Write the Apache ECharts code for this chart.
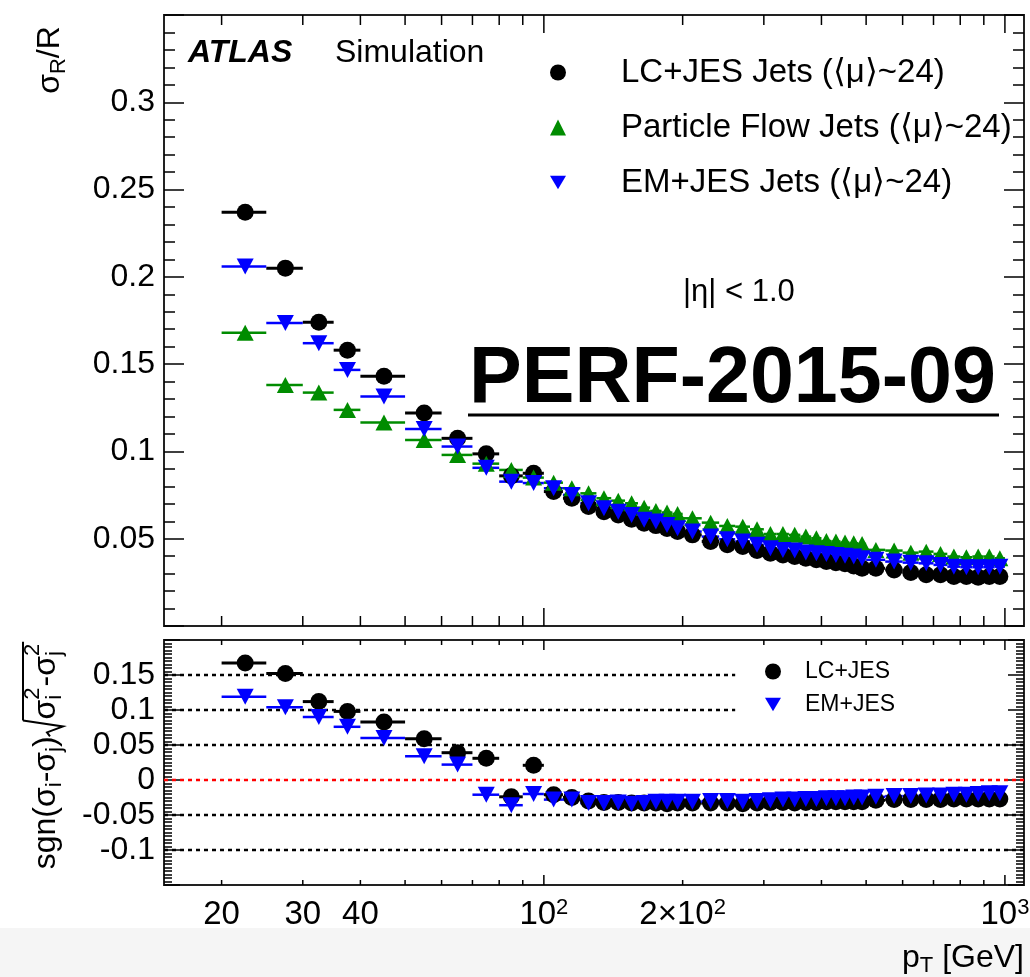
<!DOCTYPE html>
<html><head><meta charset="utf-8">
<script src="https://cdn.jsdelivr.net/npm/echarts@6/dist/echarts.min.js"></script>
<style>html,body{margin:0;padding:0;background:#fff}#c{width:1030px;height:977px}</style>
</head><body><div id="c"></div>
<script>
// ---- data ----
const BIN_EDGES = [20,25,30,35,40,50,60,70,80,90,100,110,120,130,140,150,160,170,180,190,200,
  220,240,260,280,300,320,340,360,380,400,420,440,460,480,500,550,600,650,700,750,800,850,900,950,1000];
const LC_RES = [0.237,0.205,0.174,0.158,0.143,0.122,0.1075,0.0986,0.086,0.0875,
  0.077,0.0732,0.0684,0.0655,0.0636,0.0612,0.0589,0.0575,0.0558,0.0541,
  0.0522,0.0484,0.0465,0.0455,0.0432,0.0417,0.0407,0.0398,0.0388,0.0379,0.0369,0.0363,0.0356,0.0344,0.0331,
  0.0331,0.0321,0.0306,0.0293,0.0293,0.0283,0.0283,0.0279,0.0283,0.0283];
const PF_RES = [0.168,0.138,0.1337,0.1238,0.1165,0.1066,0.098,0.093,0.0894,0.085,
  0.0821,0.0789,0.076,0.0732,0.0718,0.0703,0.0678,0.0659,0.065,0.0642,
  0.0617,0.0592,0.0573,0.0569,0.0554,0.0527,0.0527,0.0522,0.0512,0.0503,0.0487,0.0484,0.0478,0.0474,0.047,
  0.0436,0.0432,0.042,0.0426,0.0413,0.0398,0.0394,0.0398,0.0398,0.0388];
const EM_RES = [0.206,0.1736,0.162,0.1467,0.1314,0.1129,0.1028,0.0906,0.0827,0.0819,
  0.0789,0.0751,0.0703,0.0674,0.0655,0.0636,0.0608,0.0598,0.0578,0.056,
  0.0541,0.0512,0.0497,0.0484,0.0465,0.0445,0.0436,0.0432,0.0421,0.0417,0.0413,0.0407,0.0402,0.0398,0.0388,
  0.0379,0.0369,0.0363,0.0359,0.035,0.034,0.0337,0.0337,0.0337,0.034];
const LC_DIFF = [0.167,0.152,0.112,0.098,0.083,0.059,0.039,0.031,-0.024,0.021,
  -0.021,-0.025,-0.03,-0.032,-0.032,-0.033,-0.033,-0.033,-0.034,-0.033,
  -0.033,-0.033,-0.033,-0.034,-0.033,-0.032,-0.032,-0.033,-0.032,-0.032,-0.031,-0.031,-0.031,-0.031,-0.031,
  -0.029,-0.028,-0.028,-0.028,-0.028,-0.027,-0.027,-0.027,-0.027,-0.027];
const EM_DIFF = [0.119,0.104,0.09,0.076,0.06,0.034,0.022,-0.021,-0.036,-0.02,
  -0.028,-0.028,-0.033,-0.033,-0.032,-0.034,-0.033,-0.031,-0.031,-0.031,
  -0.031,-0.03,-0.03,-0.031,-0.03,-0.029,-0.028,-0.028,-0.027,-0.027,-0.026,-0.026,-0.026,-0.025,-0.025,
  -0.024,-0.023,-0.023,-0.022,-0.022,-0.021,-0.021,-0.02,-0.019,-0.019];
const X_TICKS = [20,30,40,50,60,70,80,90,100,200,300,400,500,600,700,800,900,1000];
const X_MAJOR = [100,1000];
const X_LABEL_VALUES = [20,30,40,100,200,1000];
const X_LABEL_TEXT = ['20','30','40','10{s|2}','2\u00d710{s|2}','10{s|3}'];
const REF_LEVELS = [0.15,0.1,0.05,-0.05,-0.1];
const REF_XMAX = [260,260,1100,1100,1100];
const NAMES = ['LC+JES Jets (\u27e8\u03bc\u27e9~24)','Particle Flow Jets (\u27e8\u03bc\u27e9~24)','EM+JES Jets (\u27e8\u03bc\u27e9~24)'];
const NAMES2 = ['LC+JES','EM+JES'];

// ---- helpers ----
const FONT = '"Liberation Sans", Arial, sans-serif';
const XMIN = 15, XMAX = 1100;
const GREEN = '#008c00', BLUE = '#0000ff';
const DOWN = 'path://M0,0L20,0L10,17Z';
const MS = 17;
const centers = BIN_EDGES.slice(0,-1).map((lo,i)=>(lo+BIN_EDGES[i+1])/2);
const rows = vals => vals.map((v,i)=>[centers[i], v, BIN_EDGES[i], BIN_EDGES[i+1]]);
const fmt = v => String(parseFloat(v.toFixed(3)));

function errBars(vals, color, w, xi, yi){
  return {type:'custom', xAxisIndex:xi, yAxisIndex:yi, silent:true, z:2, data:rows(vals), encode:{x:0,y:1},
    renderItem(p, api){
      const a = api.coord([api.value(2), api.value(1)]), b = api.coord([api.value(3), api.value(1)]);
      return {type:'line', shape:{x1:a[0],y1:a[1],x2:b[0],y2:b[1]}, style:{stroke:color, lineWidth:w}};
    }};
}
function scatter(name, vals, symbol, size, color, xi, yi, z){
  return {type:'scatter', name, xAxisIndex:xi, yAxisIndex:yi, data:rows(vals).map(r=>[r[0],r[1]]),
    symbol, symbolSize:size, itemStyle:{color, opacity:1}, z, silent:true};
}
function xTicks(xi, yi, ymin, ymax, maj, mnr){
  return {type:'custom', xAxisIndex:xi, yAxisIndex:yi, silent:true, z:6, data:X_TICKS.map(v=>[v, ymin]), encode:{x:0,y:1},
    renderItem(p, api){
      const v = api.value(0), L = X_MAJOR.includes(v) ? maj : mnr;
      const b = api.coord([v, ymin]), t = api.coord([v, ymax]);
      return {type:'group', children:[
        {type:'line', shape:{x1:b[0],y1:b[1],x2:b[0],y2:b[1]-L}, style:{stroke:'#000', lineWidth:1.5}},
        {type:'line', shape:{x1:t[0],y1:t[1],x2:t[0],y2:t[1]+L}, style:{stroke:'#000', lineWidth:1.5}}]};
    }};
}
function yAxis(grid, min, max, pos, maj, mnr, split, showLabel){
  return {gridIndex:grid, type:'value', min, max, interval:0.05, position:pos,
    axisLine:{show:false}, splitLine:{show:false},
    axisTick:{inside:true, length:maj, lineStyle:{color:'#000', width:1.5}},
    minorTick:{show:true, splitNumber:split, length:mnr, lineStyle:{color:'#000', width:1.5}},
    axisLabel:{show:showLabel, fontSize:32, fontFamily:FONT, color:'#000', margin:9,
      formatter: v => (Math.abs(v-min)<1e-9 || Math.abs(v-max)<1e-9) ? '' : fmt(v)}};
}
const ctx = document.createElement('canvas').getContext('2d');
function tw(t, s, w){ ctx.font = (w?w+' ':'') + s + 'px ' + FONT; return ctx.measureText(t).width; }
function txt(q, x){
  return {type:'text', x, y:q.dy||0, style:{text:q.t, font:(q.w?q.w+' ':'')+q.s+'px '+FONT, fill:'#000',
    textAlign:'left', align:'left', textVerticalAlign:'middle', verticalAlign:'middle'}};
}
function mathGroup(pieces, cx, cy, rot){
  let x = 0, radStart = null; const ch = [];
  for (const p of pieces){
    if (p.stack){ let mw = 0; for (const q of p.stack){ ch.push(txt(q,x)); mw = Math.max(mw, tw(q.t,q.s)); } x += mw + 1; }
    else if (p.rad){
      radStart = x;
      ch.push({type:'polyline', shape:{points:[[x,4],[x+4,1],[x+10,17],[x+16,-23]]}, style:{stroke:'#000', lineWidth:2, fill:null}});
      x += 17;
    } else { ch.push(txt(p,x)); x += tw(p.t,p.s,p.w); }
  }
  if (radStart !== null) ch.push({type:'line', shape:{x1:radStart+16,y1:-23,x2:x+1,y2:-23}, style:{stroke:'#000', lineWidth:2}});
  return {type:'group', x:cx, y:cy, rotation:rot, children:[{type:'group', x:-x/2, y:0, children:ch}]};
}
function txtAt(t, x, y, font){
  return {type:'text', x, y, silent:true, style:{text:t, font, fill:'#000', textAlign:'left', align:'left',
    textVerticalAlign:'middle', verticalAlign:'middle'}};
}

const series = [];
// bottom-panel reference lines
REF_LEVELS.forEach((y,i)=>series.push({type:'line', xAxisIndex:1, yAxisIndex:2, silent:true, symbol:'none', z:1,
  data:[[XMIN,y],[REF_XMAX[i],y]], lineStyle:{color:'#000', width:2.5, type:[4,4]}}));
series.push({type:'line', xAxisIndex:1, yAxisIndex:2, silent:true, symbol:'none', z:1,
  data:[[XMIN,0],[XMAX,0]], lineStyle:{color:'#ff0000', width:2.5, type:[4,4]}});
// top panel
series.push(errBars(LC_RES,'#000',3,0,0), errBars(PF_RES,GREEN,2.5,0,0), errBars(EM_RES,BLUE,2.5,0,0));
series.push(scatter(NAMES[0], LC_RES, 'circle', MS, '#000', 0, 0, 3));
series.push(scatter(NAMES[1], PF_RES, 'triangle', [MS,MS-1], GREEN, 0, 0, 4));
series.push(scatter(NAMES[2], EM_RES, DOWN, [MS,MS-1], BLUE, 0, 0, 5));
// bottom panel
series.push(errBars(LC_DIFF,'#000',3,1,2), errBars(EM_DIFF,BLUE,2.5,1,2));
series.push(scatter(NAMES2[0], LC_DIFF, 'circle', MS, '#000', 1, 2, 3));
series.push(scatter(NAMES2[1], EM_DIFF, DOWN, [MS,MS-1], BLUE, 1, 2, 5));
// ticks on x frames
series.push(xTicks(0,0,0,0.35,18,10), xTicks(1,2,-0.15,0.2,10,5));
// x tick labels
series.push({type:'custom', xAxisIndex:1, yAxisIndex:2, silent:true, z:6,
  data:X_LABEL_VALUES.map((v,i)=>[v,-0.15,i]), encode:{x:0,y:1},
  renderItem(p, api){
    const c = api.coord([api.value(0), api.value(1)]);
    return {type:'text', x:c[0], y:c[1]+30, style:{text:X_LABEL_TEXT[api.value(2)], font:'33px '+FONT, fill:'#000',
      textAlign:'center', align:'center', textVerticalAlign:'middle', verticalAlign:'middle',
      rich:{s:{fontSize:22, fontFamily:FONT, verticalAlign:'top', padding:[0,0,14,0]}}}};
  }});

const graphic = [
  {type:'rect', left:0, top:928, shape:{width:1030, height:49}, style:{fill:'#f5f5f5'}, z:-10, silent:true},
  txtAt('ATLAS', 188, 53, 'italic bold 32px '+FONT),
  txtAt('Simulation', 335, 53, '32px '+FONT),
  txtAt('|\u03b7| < 1.0', 683, 292, '31px '+FONT),
  txtAt('PERF-2015-09', 469, 380, 'bold 79px '+FONT),
  {type:'line', shape:{x1:468,y1:415,x2:999,y2:415}, style:{stroke:'#000', lineWidth:3}, silent:true},
  mathGroup([{t:'\u03c3',s:32},{t:'R',s:22,dy:9},{t:'/R',s:32}], 50, 60, Math.PI/2),
  mathGroup([{t:'sgn(\u03c3',s:32},{t:'i',s:22,dy:9},{t:'-\u03c3',s:32},{t:'j',s:22,dy:9},{t:')',s:32},
    {rad:true},{t:'\u03c3',s:32},{stack:[{t:'2',s:22,dy:-13},{t:'i',s:22,dy:9}]},{t:'-\u03c3',s:32},
    {stack:[{t:'2',s:22,dy:-13},{t:'j',s:22,dy:9}]}], 46, 756, Math.PI/2),
  {type:'text', x:1024, y:958, silent:true, style:{text:'p{b|T} [GeV]', font:'32px '+FONT, fill:'#000',
    textAlign:'right', align:'right', textVerticalAlign:'middle', verticalAlign:'middle',
    rich:{b:{fontSize:22, fontFamily:FONT, verticalAlign:'bottom', padding:[16,0,0,0]}}}}
];

const chart = echarts.init(document.getElementById('c'), null, {renderer:'canvas'});
chart.setOption({
  animation:false,
  backgroundColor:'#fff',
  textStyle:{fontFamily:FONT},
  grid:[
    {left:164, top:15, width:860, height:611, show:true, borderColor:'#222', borderWidth:2, containLabel:false},
    {left:164, top:640, width:860, height:245, show:true, borderColor:'#222', borderWidth:2, containLabel:false}
  ],
  xAxis:[
    {gridIndex:0, type:'log', logBase:10, min:XMIN, max:XMAX, axisLine:{show:false}, axisTick:{show:false}, axisLabel:{show:false}, splitLine:{show:false}},
    {gridIndex:1, type:'log', logBase:10, min:XMIN, max:XMAX, axisLine:{show:false}, axisTick:{show:false}, axisLabel:{show:false}, splitLine:{show:false}}
  ],
  yAxis:[
    yAxis(0, 0, 0.35, 'left', 20, 11, 5, true),
    yAxis(0, 0, 0.35, 'right', 20, 11, 5, false),
    yAxis(1, -0.15, 0.2, 'left', 16, 8, 10, true),
    yAxis(1, -0.15, 0.2, 'right', 16, 8, 10, false)
  ],
  legend:[
    {data:NAMES, orient:'vertical', left:550, top:56, itemWidth:16, itemHeight:16, itemGap:22, padding:0,
      selectedMode:false, textStyle:{fontSize:33, fontFamily:FONT, color:'#000', padding:[0,0,0,50]}},
    {data:NAMES2, orient:'vertical', left:765, top:660, itemWidth:16, itemHeight:16, itemGap:10, padding:0,
      selectedMode:false, textStyle:{fontSize:23, fontFamily:FONT, color:'#000', padding:[0,0,0,19]}}
  ],
  graphic:{elements:graphic},
  series
});
</script></body></html>
